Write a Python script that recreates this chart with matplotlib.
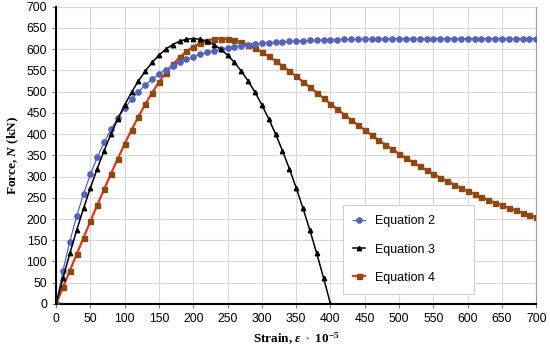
import matplotlib.pyplot as plt
import numpy as np

# strain (x 10^-5), step 10
strain_eq2 = list(range(0, 710, 10))
strain_eq3 = list(range(0, 410, 10))
strain_eq4 = list(range(0, 710, 10))

force_eq2 = [0, 78.4, 146.9, 206.9, 259.3, 305.2, 345.3, 380.4, 411.0, 437.9,
             461.3, 481.9, 499.8, 515.5, 529.2, 541.3, 551.8, 560.9, 569.0, 576.0,
             582.1, 587.5, 592.2, 596.3, 599.9, 603.1, 605.8, 608.2, 610.3, 612.2,
             613.8, 615.2, 616.4, 617.5, 618.4, 619.3, 620.0, 620.6, 621.2, 621.6,
             622.1, 622.4, 622.8, 623.0, 623.3, 623.5, 623.7, 623.9, 624.0, 624.1,
             624.2, 624.3, 624.4, 624.5, 624.5, 624.6, 624.6, 624.7, 624.7, 624.8,
             624.8, 624.8, 624.9, 624.9, 624.9, 624.9, 624.9, 625.0, 625.0, 625.0,
             625.0]

force_eq3 = [0, 60.9, 118.8, 173.4, 225.0, 273.4, 318.8, 360.9, 400.0, 435.9,
             468.8, 498.4, 525.0, 548.4, 568.8, 585.9, 600.0, 610.9, 618.8, 623.4,
             625.0, 623.4, 618.8, 610.9, 600.0, 585.9, 568.8, 548.4, 525.0, 498.4,
             468.8, 435.9, 400.0, 360.9, 318.8, 273.4, 225.0, 173.4, 118.8, 60.9,
             0]

force_eq4 = [0, 39.1, 78.1, 117.1, 155.9, 194.4, 232.6, 270.1, 306.8, 342.5,
             377.0, 409.9, 441.2, 470.4, 497.5, 522.2, 544.4, 563.9, 580.6, 594.7,
             605.9, 614.5, 620.4, 623.9, 625.0, 623.9, 620.9, 616.1, 609.7, 601.9,
             592.9, 582.9, 572.0, 560.5, 548.5, 536.0, 523.3, 510.3, 497.3, 484.3,
             471.4, 458.5, 445.9, 433.4, 421.2, 409.2, 397.5, 386.1, 375.0, 364.2,
             353.8, 343.6, 333.8, 324.3, 315.1, 306.2, 297.5, 289.2, 281.2, 273.4,
             266.0, 258.7, 251.7, 245.0, 238.5, 232.2, 226.2, 220.3, 214.7, 209.2,
             204.0]

plt.rcParams['font.family'] = ['Liberation Sans', 'DejaVu Sans']
plt.rcParams['mathtext.fontset'] = 'custom'
plt.rcParams['mathtext.rm'] = 'Liberation Serif:bold'
plt.rcParams['mathtext.it'] = 'Liberation Serif:italic:bold'

fig = plt.figure(figsize=(5.5, 3.53), dpi=100)
ax = fig.add_axes([0.102, 0.139, 0.873, 0.842])

ax.plot(strain_eq2, force_eq2, color='#5563B8', lw=0.9, marker='o', ms=3.8,
        mfc='#5563B8', mec='#5563B8', label='Equation 2', zorder=3)
ax.plot(strain_eq3, force_eq3, color='black', lw=1.1, marker='^', ms=3.2,
        mfc='black', mec='black', label='Equation 3', zorder=4)
ax.plot(strain_eq4, force_eq4, color='#E3361F', lw=1.6, marker='s', ms=3.6,
        mfc='#8A4A12', mec='#8A4A12', label='Equation 4', zorder=2)

ax.set_xlim(0, 700)
ax.set_ylim(0, 700)
ax.set_xticks(np.arange(0, 701, 50))
ax.set_yticks(np.arange(0, 701, 50))
ax.grid(True, color='#D9D9D9', lw=0.8)
ax.set_axisbelow(True)
ax.tick_params(labelsize=8.8, length=3, color='#808080')

ax.spines['top'].set_visible(False)
ax.spines['right'].set_color('#A0A0A0')
ax.spines['right'].set_linewidth(0.8)
for side in ['left', 'bottom']:
    ax.spines[side].set_color('black')
    ax.spines[side].set_linewidth(1.5)

ax.set_xlabel(r'Strain, $\varepsilon\ \cdot$ 10$^{-5}$', family='Liberation Serif',
              fontweight='bold', fontsize=9.5)
ax.set_ylabel(r'Force, $N$ (kN)', family='Liberation Serif', fontweight='bold', fontsize=9.5)

leg = ax.legend(loc='lower left', bbox_to_anchor=(0.597, 0.034, 0.273, 0.282), mode='expand',
                fontsize=9, frameon=True, fancybox=False, edgecolor='#D0D0D0',
                handlelength=1.0, labelspacing=1.3, borderpad=0.8, borderaxespad=0)
leg.get_frame().set_linewidth(0.8)
leg.get_frame().set_alpha(1)

plt.savefig('out.png', dpi=100)
